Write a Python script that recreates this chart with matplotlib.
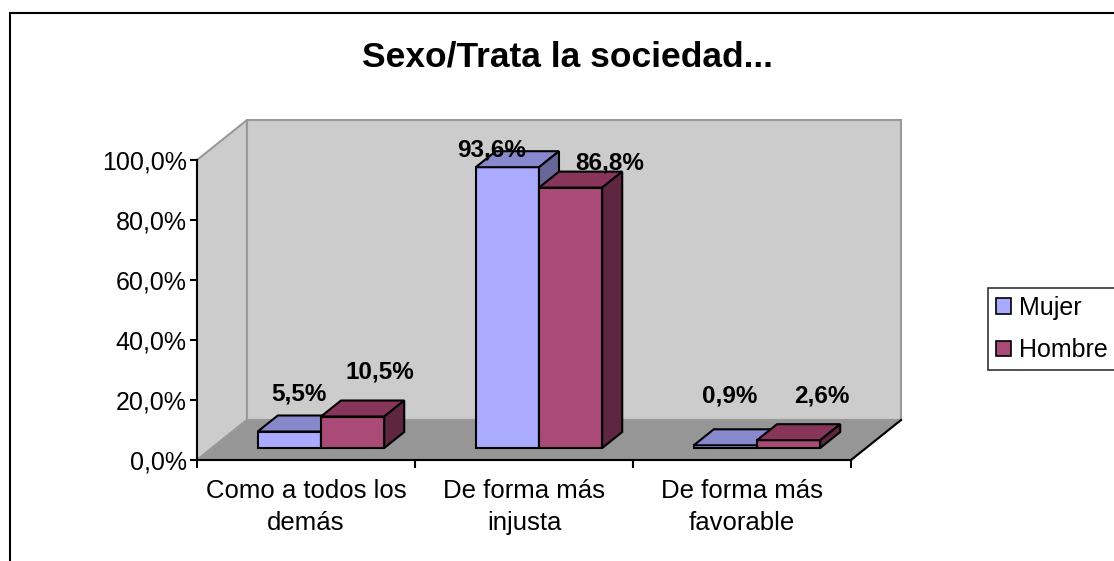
import matplotlib
matplotlib.use("Agg")
import matplotlib.pyplot as plt
from matplotlib.patches import Polygon, Patch, Rectangle
from matplotlib.ticker import FixedLocator, FuncFormatter

# data
categories = ["Como a todos los\ndemás", "De forma más\ninjusta", "De forma más\nfavorable"]
series = ["Mujer", "Hombre"]
mujer = [5.5, 93.6, 0.9]
hombre = [10.5, 86.8, 2.6]
y_ticks = [0, 20, 40, 60, 80, 100]

# colours: front, top, side
mujer_col = ("#AAAAFF", "#8888CC", "#666699")
hombre_col = ("#AA4A77", "#88355C", "#5E2640")

# label nudges (pixels) relative to the bar top centre, like excel places them
label_dx = [[0, 17], [-26, 29], [-6, 23]]
label_dy = [[30, 36], [9, 17], [41, 36]]

NARROW = ["Liberation Sans Narrow", "Liberation Sans", "DejaVu Sans"]
W, H = 1114, 561

fig = plt.figure(figsize=(W / 100, H / 100), dpi=100)
fig.patch.set_facecolor("white")

# front plane of the 3d box: x 197..851 px, y 460..160 px
ax = fig.add_axes([197 / W, 1 - 460 / H, 654 / W, 300 / H])
ax.set_xlim(0, 3)
ax.set_ylim(0, 100)
ax.patch.set_visible(False)
ax.spines["top"].set_visible(False)
ax.spines["right"].set_visible(False)
for s in ("left", "bottom"):
    ax.spines[s].set_linewidth(1.5)
    ax.spines[s].set_zorder(2.6)

# depth offset of the back wall in data units (50 px right, 40 px up)
DX = 50 / (654 / 3)
DY = 40 / 3.0


def p(x, y, z):
    return (x + z * DX, y + z * DY)


def face(pts, fc, ec, lw, z):
    poly = Polygon([p(*q) for q in pts], closed=True, facecolor=fc, edgecolor=ec,
                   linewidth=lw, zorder=z, clip_on=False, joinstyle="miter")
    ax.add_patch(poly)


wall_edge = "#999999"
# walls and floor
face([(0, 0, 0), (0, 100, 0), (0, 100, 1), (0, 0, 1)], "#CCCCCC", wall_edge, 1.5, 0.5)
face([(0, 0, 1), (3, 0, 1), (3, 100, 1), (0, 100, 1)], "#CCCCCC", wall_edge, 1.5, 0.5)
face([(0, 0, 0), (3, 0, 0), (3, 0, 1), (0, 0, 1)], "#969696", wall_edge, 1.5, 0.6)
ax.plot(*zip(p(3, 0, 0), p(3, 0, 1)), color="black", lw=1.5, zorder=2.6, clip_on=False)

# bars
bw = 0.29
start = 0.21
z0, z1 = 0.3, 0.7
for i in range(len(categories)):
    for j, (vals, cols) in enumerate([(mujer, mujer_col), (hombre, hombre_col)]):
        h = vals[i]
        x0 = i + start + j * bw
        x1 = x0 + bw
        face([(x0, 0, z0), (x1, 0, z0), (x1, h, z0), (x0, h, z0)], cols[0], "black", 1.5, 3)
        face([(x0, h, z0), (x1, h, z0), (x1, h, z1), (x0, h, z1)], cols[1], "black", 1.5, 3)
        face([(x1, 0, z0), (x1, 0, z1), (x1, h, z1), (x1, h, z0)], cols[2], "black", 1.5, 3)
        cx, cy = p((x0 + x1) / 2, h, 0.5)
        ax.annotate(f"{h:.1f}%".replace(".", ","), (cx, cy),
                    xytext=(label_dx[i][j] * 0.72, label_dy[i][j] * 0.72),
                    textcoords="offset points", ha="center", va="center",
                    fontsize=17.5, fontweight="bold", family=NARROW,
                    zorder=4, annotation_clip=False)

# axes ticks
ax.yaxis.set_major_locator(FixedLocator(y_ticks))
ax.yaxis.set_major_formatter(FuncFormatter(lambda v, pos: f"{v:.1f}%".replace(".", ",")))
ax.tick_params(axis="y", length=5, width=1.5, pad=2.5, labelsize=18)
ax.xaxis.set_major_locator(FixedLocator([0, 1, 2, 3]))
ax.xaxis.set_major_formatter(FuncFormatter(lambda v, pos: ""))
ax.xaxis.set_minor_locator(FixedLocator([0.5, 1.5, 2.5]))
ax.set_xticklabels(categories, minor=True)
ax.tick_params(axis="x", which="major", length=6, width=1.5)
ax.tick_params(axis="x", which="minor", length=0, pad=13.5, labelsize=18.5)
for lab in ax.get_yticklabels() + ax.get_xticklabels(minor=True):
    lab.set_family(NARROW)
for lab in ax.get_xticklabels(minor=True):
    lab.set_linespacing(1.45)

fig.text(567 / W, 1 - 57 / H, "Sexo/Trata la sociedad...", ha="center", va="center",
         fontsize=25.5, fontweight="bold", family=["Liberation Sans", "DejaVu Sans"])

handles = [Patch(facecolor=mujer_col[0], edgecolor="black", linewidth=1.2),
           Patch(facecolor=hombre_col[0], edgecolor="black", linewidth=1.2)]
leg = fig.legend(handles, series, loc="upper left", bbox_to_anchor=(988 / W, 1 - 288 / H),
                 frameon=True, fancybox=False, edgecolor="black", borderaxespad=0,
                 handlelength=0.6, handleheight=0.6, handletextpad=0.35,
                 labelspacing=0.75, borderpad=0.3, prop={"family": NARROW, "size": 18})
leg.get_frame().set_linewidth(1.2)

# chart area border
fig.add_artist(Rectangle((10 / W, -0.1), 1.5, 1 - 13 / H + 0.1, transform=fig.transFigure,
                         fill=False, edgecolor="black", linewidth=1.5))

fig.savefig("out.png", dpi=100)
